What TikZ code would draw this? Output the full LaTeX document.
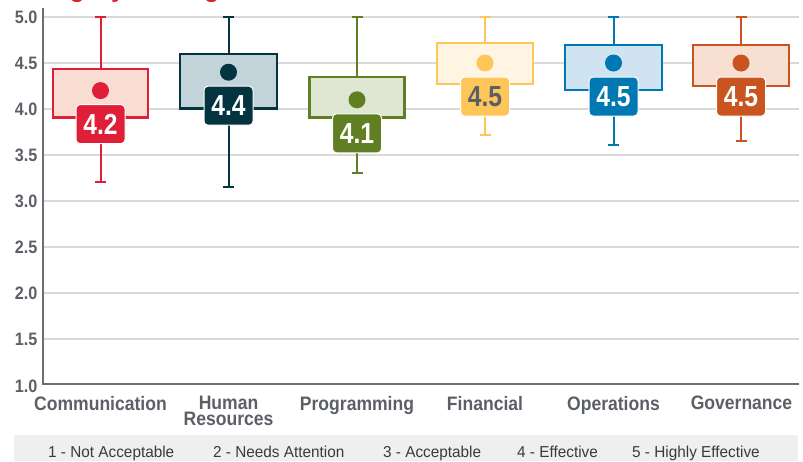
\documentclass[tikz,border=0pt]{standalone}
\usepackage{fontspec}
\setmainfont{Liberation Sans}
\newfontfamily\condf[FakeStretch=0.9]{Liberation Sans}
\newfontfamily\lblf[FakeStretch=0.85]{Liberation Sans}
\newfontfamily\legf[FakeStretch=0.97]{Liberation Sans}
\definecolor{axgray}{HTML}{6B6E72}
\definecolor{txgray}{HTML}{5C6066}
\definecolor{gridc}{HTML}{D9D9D9}
\definecolor{legbg}{HTML}{EFEFEF}
\definecolor{legtx}{HTML}{3A3A3A}
\definecolor{titlec}{HTML}{E01E37}
% series colours: stroke, fill (f), label text (t)
\definecolor{cA}{HTML}{E01E37}\definecolor{cAf}{HTML}{F9DDD3}\definecolor{cAt}{HTML}{FFFFFF}
\definecolor{cB}{HTML}{043440}\definecolor{cBf}{HTML}{C3D3DA}\definecolor{cBt}{HTML}{FFFFFF}
\definecolor{cC}{HTML}{5F7F22}\definecolor{cCf}{HTML}{DFE6D2}\definecolor{cCt}{HTML}{FFFFFF}
\definecolor{cD}{HTML}{FEC658}\definecolor{cDf}{HTML}{FFF5E2}\definecolor{cDt}{HTML}{5A5F66}
\definecolor{cE}{HTML}{0078B4}\definecolor{cEf}{HTML}{D0E3F0}\definecolor{cEt}{HTML}{FFFFFF}
\definecolor{cF}{HTML}{C9541F}\definecolor{cFf}{HTML}{F7E0D2}\definecolor{cFt}{HTML}{FFFFFF}
\newcommand\bxp[9]{%
  \draw[whisk, draw=#8] (#1,#3) -- (#1,#6);
  \draw[whisk, draw=#8] (#1-5.5,#3) -- (#1+5.5,#3);
  \draw[whisk, draw=#8] (#1-5.5,#6) -- (#1+5.5,#6);
  \draw[boxst, draw=#8, fill=#8f] (#1-#2,#4) rectangle (#1+#2,#5);
  \fill[#8] (#1,#7) circle[radius=8.5];
  \node[lbl, fill=#8, text=#8t] (lbl#8) at (#1,#7+33.5) {#9};
}
\begin{document}
\begin{tikzpicture}[x=1pt,y=-1pt,
  whisk/.style={line width=2pt},
  boxst/.style={line width=2.5pt},
  gridline/.style={draw=gridc, line width=1.5pt},
  axisline/.style={draw=axgray, line width=2.6pt},
  lbl/.style={rounded corners=4pt, draw=white, line width=1pt, minimum width=49pt,
    minimum height=39pt, inner sep=0pt, font=\lblf\bfseries\fontsize{29}{30}\selectfont},
  ylab/.style={anchor=east, inner sep=0pt, text=txgray, font=\condf\bfseries\fontsize{18}{18}\selectfont},
  xlab/.style={anchor=north, inner sep=0pt, align=center, text=txgray, font=\condf\bfseries\fontsize{19.5}{15.5}\selectfont},
  legitem/.style={anchor=base west, inner sep=0pt, text=legtx, font=\legf\fontsize{15.8}{16}\selectfont}]
\useasboundingbox (0,0) rectangle (803,461);
% title (only its descenders fall inside the picture)
\node[anchor=base west, inner sep=0pt, text=titlec, font=\condf\bfseries\fontsize{28.8}{30}\selectfont] (title) at (13,-4) {Category Average};
% grid
\foreach \v in {1.5,2.0,2.5,3.0,3.5,4.0,4.5,5.0}{
  \draw[gridline] (43,{17+(5-\v)*92}) -- (799,{17+(5-\v)*92});
  \node[ylab] at (37.5,{17.5+(5-\v)*92}) {\v};
}
\node[ylab] at (37.5,386) {1.0};
% box plots
\bxp{100.5}{47.5}{17}{69}{117.5}{182}{90.6}{cA}{4.2}
\bxp{228.5}{48.5}{17}{54}{108.5}{187}{72.2}{cB}{4.4}
\bxp{357}{47.5}{17}{77}{117.5}{172.5}{99.8}{cC}{4.1}
\bxp{485}{48}{17}{43}{84}{135}{63}{cD}{4.5}
\bxp{613.5}{48.5}{17}{45}{90}{145}{63}{cE}{4.5}
\bxp{741}{48}{17}{45}{86}{141}{63}{cF}{4.5}
% axes
\draw[axisline] (43,8) -- (43,384) -- (799,384);
% category labels
\node[xlab] (xA) at (100.5,396) {Communication};
\node[xlab] (xB) at (228.5,396) {Human\\Resources};
\node[xlab] (xC) at (357,396) {Programming};
\node[xlab] (xD) at (485,396) {Financial};
\node[xlab] (xE) at (613.5,396) {Operations};
\node[xlab] (xF) at (741.5,396) {Governance};
% legend
\fill[legbg] (14,435) rectangle (798,461);
\node[legitem] (l1) at (48,457) {1 - Not Acceptable};
\node[legitem] (l2) at (213,457) {2 - Needs Attention};
\node[legitem] (l3) at (383,457) {3 - Acceptable};
\node[legitem] (l4) at (517,457) {4 - Effective};
\node[legitem] (l5) at (632,457) {5 - Highly Effective};
\end{tikzpicture}
\end{document}
